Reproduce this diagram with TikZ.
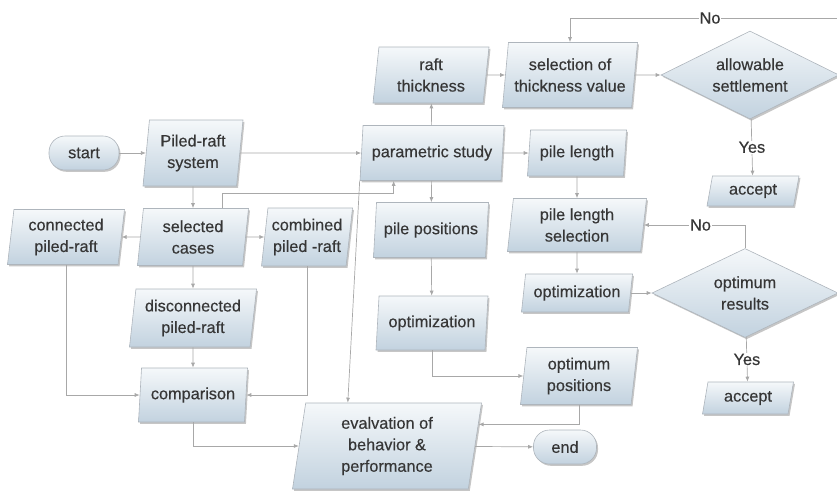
\documentclass[tikz,border=0pt]{standalone}
\usepackage{fontspec}
\setmainfont{Liberation Sans}
\newfontfamily\medfont[FakeBold=0.35]{Liberation Sans}
\usetikzlibrary{shapes.geometric,shadows,arrows.meta,calc}
\definecolor{boxtop}{HTML}{F5F8FA}
\definecolor{boxbot}{HTML}{C2D2DF}
\definecolor{boxline}{HTML}{AEB5BC}
\definecolor{lineclr}{HTML}{A8A8A8}
\definecolor{txt}{HTML}{363636}
\begin{document}
\begin{tikzpicture}[x=1pt,y=-1pt,
  base/.style={draw=boxline, line width=0.6pt, top color=boxtop, bottom color=boxbot,
    drop shadow={shadow xshift=1.5pt,shadow yshift=-1.8pt,opacity=0.45,fill=gray},
    text=txt, font=\medfont\fontsize{16.3}{21.5}\selectfont, align=center, inner sep=2pt},
  para/.style={base, trapezium, trapezium left angle=#1, trapezium right angle={180-#1},
    trapezium stretches body},
  para/.default=81,
  pill/.style={base, rectangle, rounded corners=16pt},
  dia/.style={base, diamond, aspect=2, inner sep=0pt},
  conn/.style={draw=lineclr, line width=0.7pt, -{Latex[length=5pt,width=4pt]}},
  lbl/.style={fill=white, text=txt, font=\medfont\fontsize{16.3}{18}\selectfont, inner sep=1pt}
]
\useasboundingbox (0,0) rectangle (837,490);
\clip (0,0) rectangle (837,490);

% nodes
\node[pill, minimum width=70pt, minimum height=34pt] (start) at (84,153) {start};
\node[para, minimum width=100pt, minimum height=66pt] (piled) at (193,153) {Piled-raft\\system};
\node[para, minimum width=111pt, minimum height=57pt] (sel) at (193,237) {selected\\cases};
\node[para, minimum width=117pt, minimum height=55pt] (connpr) at (66,237) {connected\\piled-raft};
\node[para, minimum width=91pt, minimum height=58pt] (comb) at (307,237) {combined\\piled -raft};
\node[para, minimum width=127pt, minimum height=58pt] (disc) at (193,318) {disconnected\\piled-raft};
\node[para, minimum width=109pt, minimum height=54pt] (comp) at (193,395) {comparison};
\node[para=78, minimum width=189pt, minimum height=86pt] (eval) at (387,446) {evalvation of\\behavior \&\\performance};
\node[pill, minimum width=63pt, minimum height=34pt] (end) at (565,447) {end};

\node[para, minimum width=144pt, minimum height=55pt] (param) at (432,153) {parametric study};
\node[para, minimum width=116pt, minimum height=56pt] (raft) at (431,75) {raft\\thickness};
\node[para, minimum width=135pt, minimum height=65pt] (selth) at (570,75) {selection of\\thickness value};
\node[dia, minimum width=178pt, minimum height=88pt] (allow) at (750,75) {allowable\\settlement};
\node[para=73, minimum width=92pt, minimum height=30pt] (acc1) at (753,191) {accept};

\node[para, minimum width=99pt, minimum height=46pt] (pilelen) at (577,153) {pile length};
\node[para, minimum width=139pt, minimum height=53pt] (pilesel) at (577,225) {pile length\\selection};
\node[para=78, minimum width=111pt, minimum height=38pt] (opt2) at (577,293) {optimization};
\node[dia, minimum width=186pt, minimum height=89pt] (optres) at (745,293) {optimum\\results};
\node[para=73, minimum width=91pt, minimum height=32pt] (acc2) at (748,398) {accept};

\node[para, minimum width=115pt, minimum height=55pt] (pilepos) at (431,230) {pile positions};
\node[para, minimum width=112pt, minimum height=54pt] (opt1) at (432,323) {optimization};
\node[para, minimum width=117pt, minimum height=57pt] (optpos) at (579,376) {optimum\\positions};

% helper coordinates
\coordinate (selp) at ($(sel.top left corner)!0.75!(sel.top right corner)$);
\coordinate (parb) at ($(param.bottom left corner)!0.24!(param.bottom right corner)$);
\coordinate (evt) at ($(eval.top left corner)!0.24!(eval.top right corner)$);
\coordinate (evr) at ($(eval.top right corner)!0.25!(eval.bottom right corner)$);
\coordinate (topR) at (allow.east |- 0,18);

% connectors
\draw[conn] (start) -- (piled);
\draw[conn] (piled) -- (param);
\draw[conn] (piled) -- (sel);
\draw[conn] (sel) -- (connpr);
\draw[conn] (sel) -- (comb);
\draw[conn] (sel) -- (disc);
\draw[conn] (disc) -- (comp);
\draw[conn] (connpr) |- (comp);
\draw[conn] (comb) |- (comp);
\draw[conn] (selp) |- (0,193 -| parb) -- (parb);
\draw[conn] (param.bottom left corner) -- (evt);
\draw[conn] (comp) |- (eval);
\draw[conn] (eval) -- (end);

\draw[conn] (param) -- (raft);
\draw[conn] (param) -- (pilelen);
\draw[conn] (param) -- (pilepos);
\draw[conn] (raft) -- (selth);
\draw[conn] (selth) -- (allow);
\draw[conn] (allow) -- node[lbl]{Yes} (acc1);
\draw[conn] (allow.east) -- (topR) -| node[lbl, pos=0.24]{No} (selth);

\draw[conn] (pilelen) -- (pilesel);
\draw[conn] (pilesel) -- (opt2);
\draw[conn] (opt2) -- (optres);
\draw[conn] (optres) |- node[lbl, pos=0.72]{No} (pilesel);
\draw[conn] (optres) -- node[lbl]{Yes} (acc2);

\draw[conn] (pilepos) -- (opt1);
\draw[conn] (opt1) |- (optpos);
\draw[conn] (optpos) |- (evr);
\end{tikzpicture}
\end{document}
